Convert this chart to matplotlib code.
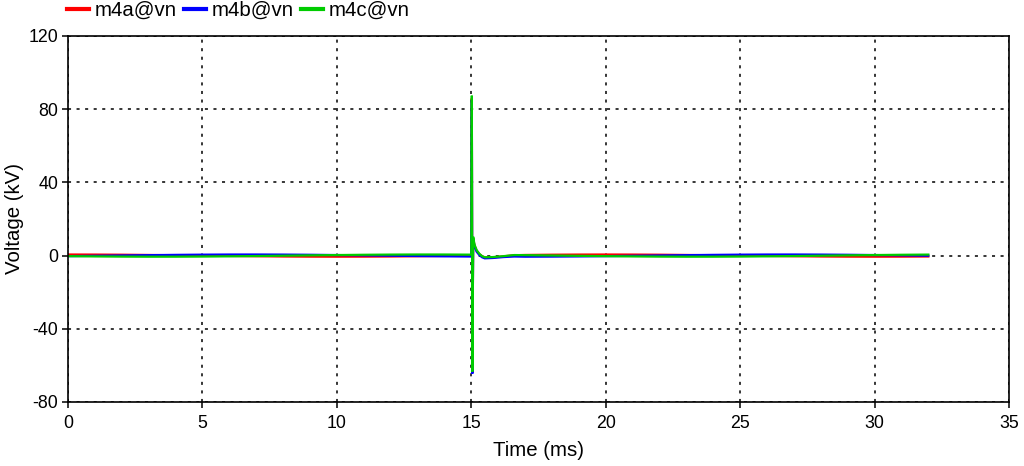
import matplotlib
matplotlib.use("Agg")
import matplotlib.pyplot as plt
from matplotlib.lines import Line2D

plt.rcParams['font.family'] = ['Liberation Sans', 'DejaVu Sans']
plt.rcParams['axes.unicode_minus'] = False

# ---- data ----
series_names = ["m4a@vn", "m4b@vn", "m4c@vn"]
series_colors = ["#ff0000", "#0000ff", "#00cc00"]

# time axis (ms): pre-fault, fault transient, post-fault
time_ms = [0, 1, 2, 3, 4, 5, 6, 7, 8, 9, 10, 11, 12, 13, 14, 15.0,
           15.02, 15.04, 15.07, 15.12, 15.2, 15.3, 15.4, 15.5, 15.8, 16.2, 16.6,
           17, 18, 19, 20, 21, 22, 23, 24, 25, 26, 27, 28, 29, 30, 31, 32]

m4a_kv = [0.60, 0.57, 0.49, 0.35, 0.19, 0.00, -0.19, -0.35, -0.49, -0.57,
          -0.60, -0.57, -0.49, -0.35, -0.19, 0.00,
          86.0, -64.0, 9.5, 5.5, 2.6, 0.8, -0.3, -1.0, -1.0, -0.4, 0.2,
          0.35, 0.49, 0.57, 0.60, 0.57, 0.49, 0.35, 0.19, 0.00, -0.19,
          -0.35, -0.49, -0.57, -0.60, -0.57, -0.49]

m4b_kv = [-0.30, -0.13, 0.06, 0.24, 0.40, 0.52, 0.59, 0.60, 0.55, 0.45,
          0.30, 0.13, -0.06, -0.24, -0.40, -0.52,
          85.0, -64.5, 9.0, 5.0, 2.1, 0.3, -0.9, -1.5, -1.3, -0.8, -0.5,
          -0.60, -0.55, -0.45, -0.30, -0.13, 0.06, 0.24, 0.40, 0.52, 0.59,
          0.60, 0.55, 0.45, 0.30, 0.13, -0.06]

m4c_kv = [-0.30, -0.45, -0.55, -0.60, -0.59, -0.52, -0.40, -0.24, -0.06, 0.13,
          0.30, 0.45, 0.55, 0.60, 0.59, 0.52,
          87.4, -63.4, 10.3, 6.0, 3.0, 1.0, -0.3, -0.9, -0.8, -0.3, 0.3,
          0.24, 0.06, -0.13, -0.30, -0.45, -0.55, -0.60, -0.59, -0.52, -0.40,
          -0.24, -0.06, 0.13, 0.30, 0.45, 0.55]

x_ticks = [0, 5, 10, 15, 20, 25, 30, 35]
y_ticks = [-80, -40, 0, 40, 80, 120]

# ---- figure ----
fig = plt.figure(figsize=(10.24, 4.66), dpi=100)
ax = fig.add_axes([68/1024, 1 - 402/466, (1009 - 68)/1024, (402 - 36)/466])

for vals, col in zip([m4a_kv, m4b_kv, m4c_kv], series_colors):
    ax.plot(time_ms, vals, color=col, lw=1.6, solid_joinstyle='miter')

ax.set_xlim(0, 35)
ax.set_ylim(-80, 120)
ax.set_xticks(x_ticks)
ax.set_yticks(y_ticks)
ax.tick_params(direction='out', length=4, width=1.1, labelsize=12.8,
               top=False, right=False)
ax.tick_params(axis='x', pad=5)
ax.tick_params(axis='y', pad=3)
for sp in ax.spines.values():
    sp.set_linewidth(1.2)
    sp.set_color('black')

ax.grid(True, color='black', linestyle=(0, (2, 3.6)), linewidth=1.1)
ax.set_axisbelow(True)

ax.set_xlabel("Time (ms)", fontsize=14.7, labelpad=7)
ax.set_ylabel("Voltage (kV)", fontsize=14.7, labelpad=3)

handles = [Line2D([0], [0], color=c, lw=3) for c in series_colors]
fig.legend(handles, series_names, loc='upper left',
           bbox_to_anchor=(66/1024, 1.0), ncol=3, frameon=False,
           fontsize=14.7, handlelength=1.1, handletextpad=0.25,
           columnspacing=0.35, borderaxespad=0.0, borderpad=0.05)

fig.savefig("out.png", dpi=100)
